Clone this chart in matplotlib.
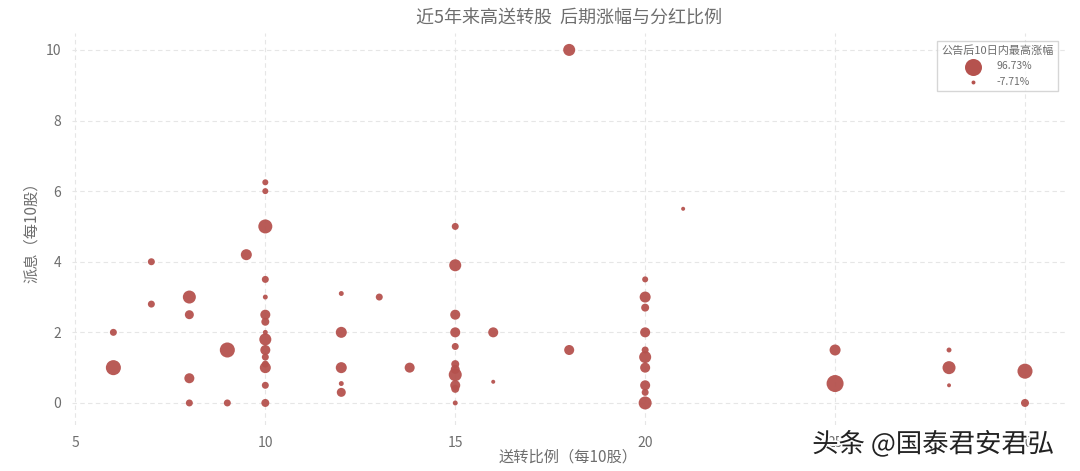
import matplotlib
matplotlib.use("Agg")
import matplotlib.pyplot as plt
import matplotlib.patheffects as pe
import numpy as np

plt.rcParams['font.family'] = ['Noto Sans CJK SC', 'DejaVu Sans']

# 送转比例 (每10股), 派息 (每10股), 公告后10日内最高涨幅 (%)
ratio = [6, 6, 7, 7, 8, 8, 8, 8, 9, 9, 9.5,
         10, 10, 10, 10, 10, 10, 10, 10, 10, 10, 10, 10, 10, 10, 10,
         12, 12, 12, 12, 12, 13, 13.8,
         15, 15, 15, 15, 15, 15, 15, 15, 15, 15, 15,
         16, 16, 18, 18, 21,
         20, 20, 20, 20, 20, 20, 20, 20, 20, 20,
         25, 25, 28, 28, 28, 30, 30]
dividend = [1.0, 2.0, 4.0, 2.8, 3.0, 2.5, 0.7, 0.0, 1.5, 0.0, 4.2,
            6.25, 6.0, 5.0, 3.5, 3.0, 2.5, 2.3, 2.0, 1.8, 1.5, 1.3, 1.1, 1.0, 0.5, 0.0,
            3.1, 2.0, 1.0, 0.55, 0.3, 3.0, 1.0,
            5.0, 3.9, 2.5, 2.0, 1.6, 1.1, 0.95, 0.8, 0.5, 0.4, 0.0,
            2.0, 0.6, 10.0, 1.5, 5.5,
            3.5, 3.0, 2.7, 2.0, 1.5, 1.3, 1.0, 0.5, 0.3, 0.0,
            1.5, 0.55, 1.5, 1.0, 0.5, 0.9, 0.0]
gain = [72.7, 5.0, 5.0, 5.0, 51.0, 17.2, 24.7, 5.0, 72.7, 5.0, 32.7,
        0.2, 0.2, 61.4, 5.0, -4.4, 24.7, 10.7, -4.4, 41.6, 24.7, 5.0, 5.0, 32.7, 5.0, 10.7,
        -4.4, 32.7, 32.7, -4.4, 17.2, 5.0, 24.7,
        5.0, 41.6, 24.7, 24.7, 5.0, 10.7, 17.2, 51.0, 24.7, 10.7, -4.4,
        24.7, -7.5, 41.6, 24.7, -7.5,
        0.2, 32.7, 10.7, 24.7, 5.0, 41.6, 24.7, 24.7, 5.0, 51.0,
        32.7, 96.73, -4.4, 51.0, -7.71, 72.7, 10.7]

gmin, gmax = min(gain), max(gain)


def bubble(g):
    g = np.asarray(g, dtype=float)
    return 8 + (g - gmin) / (gmax - gmin) * 142


color = '#b5524e'
grey = '#6e6e6e'

fig = plt.figure(figsize=(10.8, 4.71), dpi=100)
ax = fig.add_axes([0.067, 0.098, 0.919, 0.832])

ax.scatter(ratio, dividend, s=bubble(gain), color=color, alpha=0.95, linewidths=0)

ax.set_xlim(4.92, 31.05)
ax.set_ylim(-0.62, 10.48)
ax.set_xticks([5, 10, 15, 20, 25, 30])
ax.set_yticks([0, 2, 4, 6, 8, 10])
ax.tick_params(length=0, colors=grey, labelsize=10, pad=8)
for sp in ax.spines.values():
    sp.set_visible(False)
ax.grid(True, linestyle=(0, (4, 3)), color='#e6e6e6', linewidth=0.8)
ax.set_axisbelow(True)

ax.set_title('近5年来高送转股  后期涨幅与分红比例', color=grey, fontsize=13, pad=7)
ax.set_xlabel('送转比例（每10股）', color=grey, fontsize=11, labelpad=-1)
ax.set_ylabel('派息（每10股）', color=grey, fontsize=11, labelpad=4)

h1 = ax.scatter([], [], s=bubble(gmax), color=color, linewidths=0)
h2 = ax.scatter([], [], s=bubble(gmin), color=color, linewidths=0)
leg = ax.legend([h1, h2], [f'{gmax:.2f}%', f'{gmin:.2f}%'],
                title='公告后10日内最高涨幅', loc='upper right',
                bbox_to_anchor=(0.998, 0.992),
                fontsize=7.5, title_fontsize=8, frameon=True, fancybox=False,
                borderpad=0.4, labelspacing=0.5, handletextpad=1.2)
leg.get_frame().set_edgecolor('#cccccc')
leg.get_title().set_color(grey)
for t in leg.get_texts():
    t.set_color(grey)

fig.text(0.752, 0.04, '头条 @国泰君安君弘', fontsize=19, color='#222222',
         path_effects=[pe.withStroke(linewidth=2.5, foreground='white')])

plt.savefig('out.png', dpi=100)
